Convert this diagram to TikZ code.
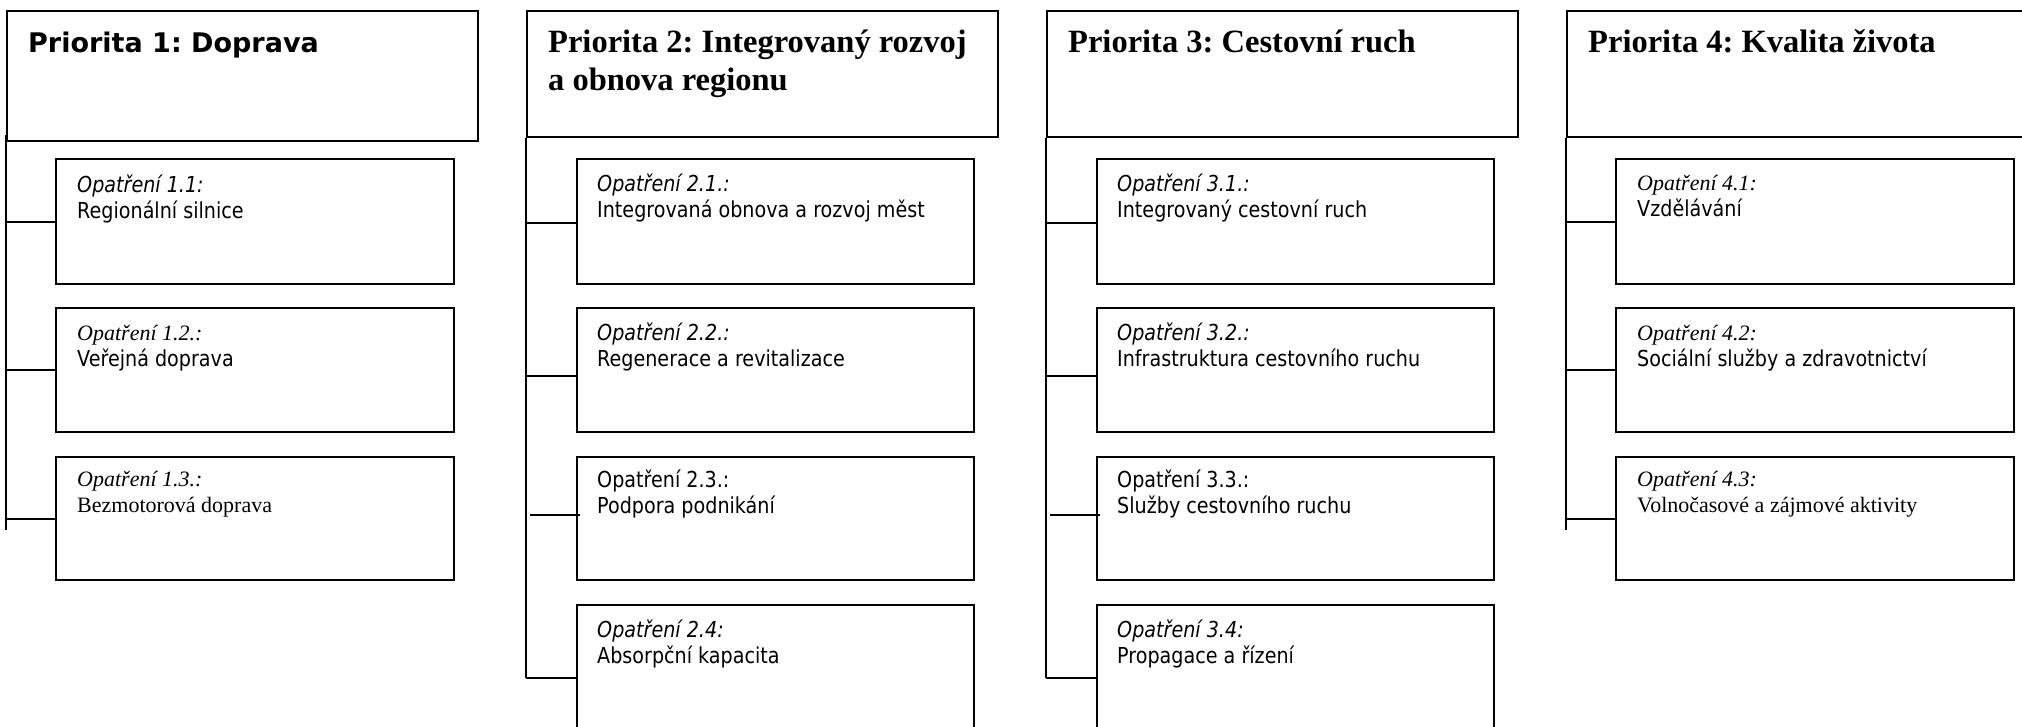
\documentclass[tikz,border=0pt]{standalone}
\usepackage{fontspec}
\usetikzlibrary{calc}
\newfontfamily\tah[FakeStretch=0.87]{DejaVu Sans}
\newfontfamily\vbd{DejaVu Sans}
\newfontfamily\tms{Liberation Serif}
\tikzset{
  pbox/.style={draw, line width=2.2, inner sep=0, anchor=north west},
  mbox/.style={draw, line width=2.2, inner sep=0, anchor=north west, minimum width=397, minimum height=124},
  lbl/.style={anchor=base west, inner sep=0, align=left, font=\frenchspacing\fontsize{22}{26}\selectfont},
  ttl/.style={anchor=base west, inner sep=0, align=left},
  conn/.style={line width=2.2}
}
\begin{document}
\frenchspacing
\begin{tikzpicture}[x=1pt, y=-1pt]
\useasboundingbox (0,0) rectangle (2022,726);
% priority boxes
\node[pbox, minimum width=471, minimum height=130] (p1) at (6,10) {};
\node[pbox, minimum width=471, minimum height=126] (p2) at (526,10) {};
\node[pbox, minimum width=471, minimum height=126] (p3) at (1046,10) {};
\node[pbox, minimum width=480, minimum height=126] (p4) at (1566,10) {};
% titles (anchored at the baseline of the last line)
\node[ttl, font=\frenchspacing\vbd\bfseries\fontsize{27}{38}\selectfont] (t1) at (28,52) {Priorita 1: Doprava};
\node[ttl, font=\frenchspacing\tms\bfseries\fontsize{32.5}{38}\selectfont] (t2) at (548,90) {Priorita 2: Integrovaný rozvoj\\a obnova regionu};
\node[ttl, font=\frenchspacing\tms\bfseries\fontsize{32.5}{38}\selectfont] (t3) at (1068,52) {Priorita 3: Cestovní ruch};
\node[ttl, font=\frenchspacing\tms\bfseries\fontsize{32.5}{38}\selectfont] (t4) at (1588,52) {Priorita 4: Kvalita života};
% measure boxes column 1
\node[mbox, minimum width=398, minimum height=125] (m11) at (55,158) {};
\node[mbox, minimum width=398] (m12) at (55,307) {};
\node[mbox, minimum width=398, minimum height=123] (m13) at (55,456) {};
% column 2
\node[mbox, minimum height=125] (m21) at (576,158) {};
\node[mbox] (m22) at (576,307) {};
\node[mbox, minimum height=123] (m23) at (576,456) {};
\node[mbox, minimum height=160] (m24) at (576,604) {};
% column 3
\node[mbox, minimum height=125] (m31) at (1096,158) {};
\node[mbox] (m32) at (1096,307) {};
\node[mbox, minimum height=123] (m33) at (1096,456) {};
\node[mbox, minimum height=160] (m34) at (1096,604) {};
% column 4
\node[mbox, minimum width=398, minimum height=125] (m41) at (1615,158) {};
\node[mbox, minimum width=398] (m42) at (1615,307) {};
\node[mbox, minimum width=398, minimum height=123] (m43) at (1615,456) {};
% texts (anchored at the baseline of the second line)
\node[lbl] (x11) at (77,218) {{\tah\itshape Opatření 1.1:}\\{\tah Regionální silnice}};
\node[lbl] (x12) at (77,366) {{\tms\itshape Opatření 1.2.:}\\{\tah Veřejná doprava}};
\node[lbl] (x13) at (77,512) {{\tms\itshape Opatření 1.3.:}\\{\tms Bezmotorová doprava}};
\node[lbl] (x21) at (597,217) {{\tah\itshape Opatření 2.1.:}\\{\tah Integrovaná obnova a rozvoj měst}};
\node[lbl] (x22) at (597,366) {{\tah\itshape Opatření 2.2.:}\\{\tah Regenerace a revitalizace}};
\node[lbl] (x23) at (597,513) {{\tah Opatření 2.3.:}\\{\tah Podpora podnikání}};
\node[lbl] (x24) at (597,663) {{\tah\itshape Opatření 2.4:}\\{\tah Absorpční kapacita}};
\node[lbl] (x31) at (1117,217) {{\tah\itshape Opatření 3.1.:}\\{\tah Integrovaný cestovní ruch}};
\node[lbl] (x32) at (1117,366) {{\tah\itshape Opatření 3.2.:}\\{\tah Infrastruktura cestovního ruchu}};
\node[lbl] (x33) at (1117,513) {{\tah Opatření 3.3.:}\\{\tah Služby cestovního ruchu}};
\node[lbl] (x34) at (1117,663) {{\tah\itshape Opatření 3.4:}\\{\tah Propagace a řízení}};
\node[lbl] (x41) at (1637,216) {{\tms\itshape Opatření 4.1:}\\{\tah Vzdělávání}};
\node[lbl] (x42) at (1637,366) {{\tms\itshape Opatření 4.2:}\\{\tah Sociální služby a zdravotnictví}};
\node[lbl] (x43) at (1637,512) {{\tms\itshape Opatření 4.3:}\\{\tms Volnočasové a zájmové aktivity}};
% spine end points
\coordinate (e1) at (6,530);
\coordinate (e2) at (526,678);
\coordinate (e3) at (1046,678);
\coordinate (e4) at (1566,530);
% branch attachment points
\coordinate (b21) at ($(m21.west)+(0,1.5)$);
\coordinate (b22) at ($(m22.west)+(0,6)$);
\coordinate (b23) at ($(m23.west)+(4,-3.5)$);
\coordinate (b31) at ($(m31.west)+(0,1.5)$);
\coordinate (b32) at ($(m32.west)+(0,6)$);
\coordinate (b33) at ($(m33.west)+(4,-3.5)$);
% spines
\draw[conn] ($(p1.south west)+(0,-7)$) -- (e1);
\draw[conn] (p2.south west) -- (e2);
\draw[conn] (p3.south west) -- (e3);
\draw[conn] (p4.south west) -- (e4);
% branches column 1
\draw[conn] (e1 |- m11.west) -- (m11.west);
\draw[conn] (e1 |- m12.west) -- (m12.west);
\draw[conn] (e1 |- m13.west) -- (m13.west);
% column 2
\draw[conn] (e2 |- b21) -- (b21);
\draw[conn] (e2 |- b22) -- (b22);
\draw[conn] ($(e2 |- b23)+(4,0)$) -- (b23);
\draw[conn] (e2) -- (e2 -| m24.west);
% column 3
\draw[conn] (e3 |- b31) -- (b31);
\draw[conn] (e3 |- b32) -- (b32);
\draw[conn] ($(e3 |- b33)+(4,0)$) -- (b33);
\draw[conn] (e3) -- (e3 -| m34.west);
% column 4
\draw[conn] (e4 |- m41.west) -- (m41.west);
\draw[conn] (e4 |- m42.west) -- (m42.west);
\draw[conn] (e4 |- m43.west) -- (m43.west);
\end{tikzpicture}
\end{document}
